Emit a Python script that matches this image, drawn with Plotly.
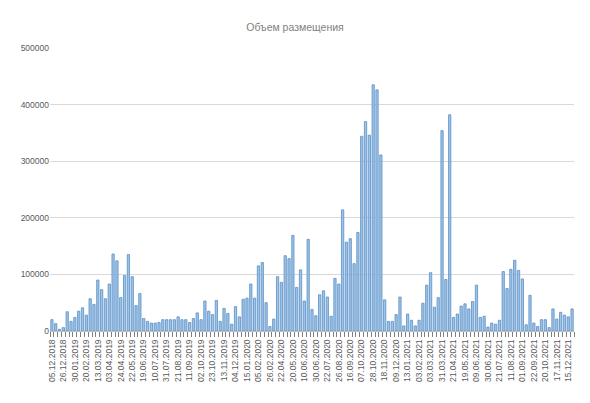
import plotly.graph_objects as go

# weekly placement dates (every third one is labelled on the axis)
dates = [
    "05.12.2018", "12.12.2018", "19.12.2018", "26.12.2018", "16.01.2019", "23.01.2019",
    "30.01.2019", "06.02.2019", "13.02.2019", "20.02.2019", "27.02.2019", "06.03.2019",
    "13.03.2019", "20.03.2019", "27.03.2019", "03.04.2019", "10.04.2019", "17.04.2019",
    "24.04.2019", "08.05.2019", "15.05.2019", "22.05.2019", "05.06.2019", "12.06.2019",
    "19.06.2019", "26.06.2019", "03.07.2019", "10.07.2019", "17.07.2019", "24.07.2019",
    "31.07.2019", "07.08.2019", "14.08.2019", "21.08.2019", "28.08.2019", "04.09.2019",
    "11.09.2019", "18.09.2019", "25.09.2019", "02.10.2019", "09.10.2019", "16.10.2019",
    "23.10.2019", "30.10.2019", "06.11.2019", "13.11.2019", "20.11.2019", "27.11.2019",
    "04.12.2019", "11.12.2019", "18.12.2019", "15.01.2020", "22.01.2020", "29.01.2020",
    "05.02.2020", "12.02.2020", "19.02.2020", "26.02.2020", "04.03.2020", "11.03.2020",
    "22.04.2020", "06.05.2020", "13.05.2020", "20.05.2020", "27.05.2020", "03.06.2020",
    "10.06.2020", "17.06.2020", "24.06.2020", "30.06.2020", "08.07.2020", "15.07.2020",
    "22.07.2020", "05.08.2020", "12.08.2020", "26.08.2020", "02.09.2020", "09.09.2020",
    "16.09.2020", "23.09.2020", "30.09.2020", "07.10.2020", "14.10.2020", "21.10.2020",
    "28.10.2020", "04.11.2020", "11.11.2020", "18.11.2020", "25.11.2020", "02.12.2020",
    "09.12.2020", "16.12.2020", "23.12.2020", "13.01.2021", "20.01.2021", "27.01.2021",
    "03.02.2021", "10.02.2021", "17.02.2021", "03.03.2021", "10.03.2021", "17.03.2021",
    "31.03.2021", "07.04.2021", "14.04.2021", "21.04.2021", "28.04.2021", "12.05.2021",
    "19.05.2021", "26.05.2021", "02.06.2021", "09.06.2021", "16.06.2021", "23.06.2021",
    "30.06.2021", "07.07.2021", "14.07.2021", "21.07.2021", "28.07.2021", "04.08.2021",
    "11.08.2021", "18.08.2021", "25.08.2021", "01.09.2021", "08.09.2021", "15.09.2021",
    "22.09.2021", "29.09.2021", "06.10.2021", "20.10.2021", "27.10.2021", "03.11.2021",
    "17.11.2021", "24.11.2021", "01.12.2021", "15.12.2021", "22.12.2021",
]

volume = [
    20000, 13000, 3000, 6000, 34000, 17000, 24000, 35000, 41000, 28000,
    57000, 47000, 90000, 73000, 57000, 83000, 136000, 124000, 59000, 98000,
    135000, 96000, 45000, 66000, 22000, 17000, 14000, 14000, 15000, 20000,
    20000, 20000, 20000, 25000, 20000, 20000, 15000, 22000, 32000, 20000,
    53000, 35000, 29000, 54000, 17000, 40000, 31000, 12000, 43000, 25000,
    56000, 58000, 83000, 58000, 115000, 121000, 50000, 8000, 21000, 96000,
    86000, 133000, 128000, 169000, 77000, 108000, 53000, 162000, 38000, 27000,
    64000, 71000, 60000, 26000, 93000, 83000, 214000, 157000, 163000, 119000,
    174000, 344000, 370000, 346000, 435000, 426000, 311000, 55000, 17000, 17000,
    29000, 60000, 9000, 30000, 19000, 9000, 19000, 49000, 81000, 103000,
    42000, 59000, 354000, 91000, 382000, 24000, 30000, 44000, 48000, 39000,
    52000, 81000, 24000, 26000, 7000, 14000, 12000, 19000, 105000, 75000,
    109000, 125000, 107000, 92000, 11000, 63000, 14000, 8000, 20000, 20000,
    6000, 39000, 21000, 33000, 28000, 25000, 39000,
]

y_ticks = [0, 100000, 200000, 300000, 400000, 500000]

tick_text = [d if i % 3 == 0 else "" for i, d in enumerate(dates)]

font = "Liberation Sans, Arial, sans-serif"

fig = go.Figure()
fig.add_trace(go.Bar(
    x=dates,
    y=volume,
    marker=dict(color="#9DC3E6", line=dict(color="#5B8FC7", width=0.8)),
))

# page body has an 8px margin, so the figure is a bit smaller than the window
fig.update_layout(
    width=574,
    height=387,
    margin=dict(l=42, r=8, t=40, b=64),
    paper_bgcolor="white",
    plot_bgcolor="white",
    showlegend=False,
    bargap=0.4,
    title=dict(
        text="Объем размещения",
        x=0.5, xanchor="center",
        y=0.951, yanchor="middle",
        font=dict(family=font, size=10.5, color="#7f7f7f"),
    ),
    font=dict(family=font, size=8.5, color="#595959"),
)

fig.update_xaxes(
    type="category",
    tickmode="array",
    tickvals=dates,
    ticktext=tick_text,
    tickangle=-90,
    tickson="boundaries",
    ticks="outside",
    ticklen=5,
    tickcolor="#7f7f7f",
    ticklabelstandoff=4,
    tickfont=dict(size=8.5, color="#595959"),
    showline=True,
    linecolor="#bfbfbf",
    showgrid=False,
    automargin=False,
)

fig.update_yaxes(
    range=[0, 500000],
    tickvals=y_ticks,
    tickformat="d",
    showgrid=True,
    gridcolor="#d9d9d9",
    zeroline=False,
    showline=False,
    ticks="",
    tickfont=dict(size=8.5, color="#595959"),
    automargin=False,
)

fig.write_html("out.html")
